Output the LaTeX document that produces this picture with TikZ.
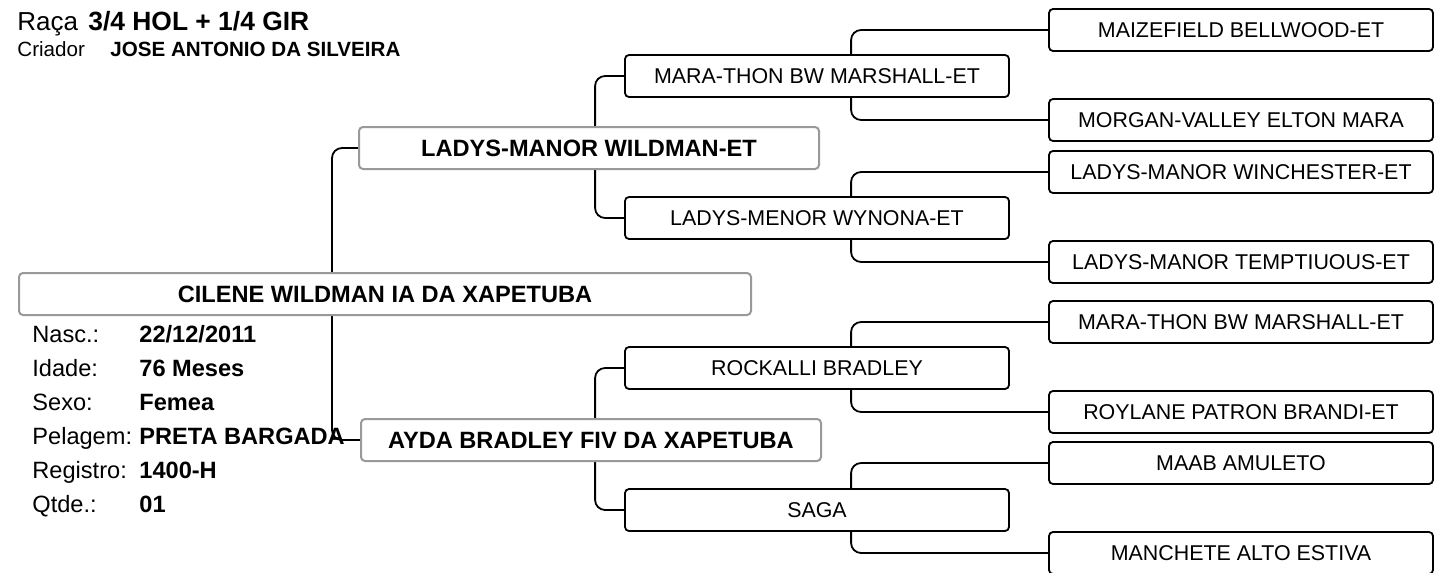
\documentclass[tikz,border=0pt]{standalone}
\usepackage{fontspec}
\setmainfont{Liberation Sans}
\usepackage{tikz}
\usetikzlibrary{positioning, backgrounds}

\begin{document}
\begin{tikzpicture}[x=0.5pt, y=-0.5pt,
      box/.style={draw, rounded corners=2pt, fill=white, line width=0.9pt,
        minimum width=192pt, minimum height=21pt, inner sep=0pt,
        font=\fontsize{10.7}{12}\selectfont},
      bigbox/.style={draw=gray!80, rounded corners=2pt, fill=white, line width=1pt,
        minimum height=21pt, inner sep=0pt,
        font=\fontsize{11.8}{14}\selectfont\bfseries},
      link/.style={line width=0.9pt, rounded corners=5pt},
      lbl/.style={anchor=base west, inner sep=0pt, font=\fontsize{11.8}{14}\selectfont},
      val/.style={anchor=base west, inner sep=0pt, font=\fontsize{11.8}{14}\selectfont\bfseries}
    ]
      \useasboundingbox (0,0) rectangle (1446,573);

      % header
      \node[anchor=base west, inner sep=0pt, font=\fontsize{13}{15}\selectfont] (raca) at (17,30) {Raça};
      \node[anchor=base west, inner sep=0pt, font=\fontsize{13.2}{15}\selectfont\bfseries] (racav) at (88,30) {3/4 HOL + 1/4 GIR};
      \node[anchor=base west, inner sep=0pt, font=\fontsize{10.3}{12}\selectfont] (criador) at (17,56) {Criador};
      \node[anchor=base west, inner sep=0pt, font=\fontsize{10.3}{12}\selectfont\bfseries] (criadorv) at (110,56) {JOSE ANTONIO DA SILVEIRA};

      % animal and parents
      \node[bigbox, minimum width=366pt] (C) at (385,294) {CILENE WILDMAN IA DA XAPETUBA};
      \node[bigbox, minimum width=230pt] (S) at (589,148) {LADYS-MANOR WILDMAN-ET};
      \node[bigbox, minimum width=230pt] (D) at (591,440) {AYDA BRADLEY FIV DA XAPETUBA};

      % grandparents
      \node[box] (SS) at (817,76) {MARA-THON BW MARSHALL-ET};
      \node[box] (SD) at (817,218) {LADYS-MENOR WYNONA-ET};
      \node[box] (DS) at (817,368) {ROCKALLI BRADLEY};
      \node[box] (DD) at (817,510) {SAGA};

      % great-grandparents
      \node[box] (SSS) at (1241,30) {MAIZEFIELD BELLWOOD-ET};
      \node[box] (SSD) at (1241,120) {MORGAN-VALLEY ELTON MARA};
      \node[box] (SDS) at (1241,172) {LADYS-MANOR WINCHESTER-ET};
      \node[box] (SDD) at (1241,262) {LADYS-MANOR TEMPTIUOUS-ET};
      \node[box] (DSS) at (1241,322) {MARA-THON BW MARSHALL-ET};
      \node[box] (DSD) at (1241,412) {ROYLANE PATRON BRANDI-ET};
      \node[box] (DDS) at (1241,463) {MAAB AMULETO};
      \node[box] (DDD) at (1241,553) {MANCHETE ALTO ESTIVA};

      % data of the animal
      \node[lbl] (nasc) at (32,342) {Nasc.:};
      \node[val] (nascv) at (139,342) {22/12/2011};
      \node[lbl] (idade) at (32,376) {Idade:};
      \node[val] (idadev) at (139,376) {76 Meses};
      \node[lbl] (sexo) at (32,410) {Sexo:};
      \node[val] (sexov) at (139,410) {Femea};
      \node[lbl] (pelagem) at (32,444) {Pelagem:};
      \node[val] (pelagemv) at (139,444) {PRETA BARGADA};
      \node[lbl] (registro) at (32,478) {Registro:};
      \node[val] (registrov) at (139,478) {1400-H};
      \node[lbl] (qtde) at (32,512) {Qtde.:};
      \node[val] (qtdev) at (139,512) {01};

      \begin{pgfonlayer}{background}
        \draw[link] (S.west) -- ++(-26,0) |- (D.west);
        \draw[link] (SS.west) -- ++(-29,0) |- (SD.west);
        \draw[link] (DS.west) -- ++(-29,0) |- (DD.west);
        \draw[link] (SSS.west) -- ++(-197,0) |- (SSD.west);
        \draw[link] (SDS.west) -- ++(-197,0) |- (SDD.west);
        \draw[link] (DSS.west) -- ++(-197,0) |- (DSD.west);
        \draw[link] (DDS.west) -- ++(-197,0) |- (DDD.west);
      \end{pgfonlayer}
    \end{tikzpicture}
\end{document}
